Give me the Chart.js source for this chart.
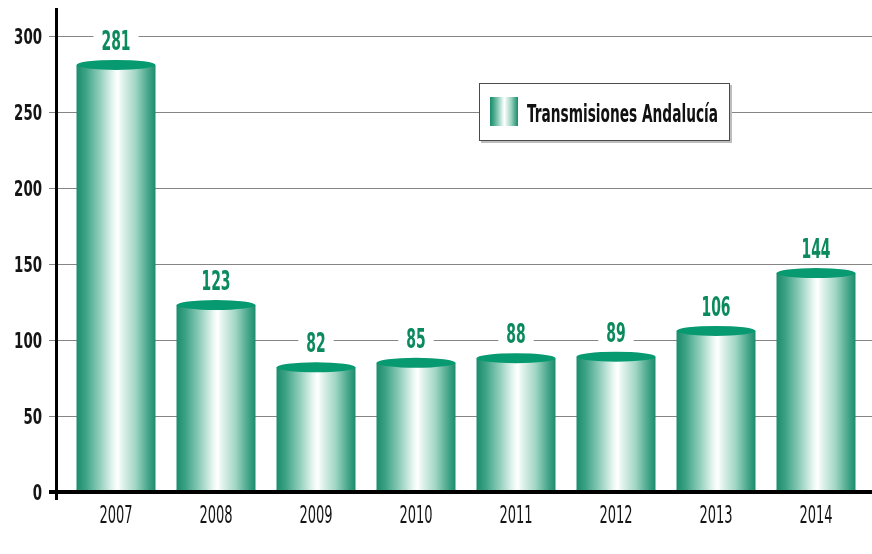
<!DOCTYPE html>
<html><head><meta charset="utf-8">
<script src="https://cdn.jsdelivr.net/npm/chart.js@4.4.1/dist/chart.umd.min.js"></script>
<style>html,body{margin:0;padding:0;background:#fff}#wrap{width:872px;height:554px}</style>
</head><body><div id="wrap"><canvas id="c" width="872" height="554"></canvas></div>
<script>
const categories = ['2007','2008','2009','2010','2011','2012','2013','2014'];
const values = [281,123,82,85,88,89,106,144];
const yTicks = [0,50,100,150,200,250,300];
const seriesName = 'Transmisiones Andalucía';

const FONT = '"Liberation Sans Narrow", "Arial Narrow", "DejaVu Sans Condensed", sans-serif';
const GREEN_TEXT = '#0b8a5e';
const CAP = '#079a70';

function cylGrad(ctx, x0, x1) {
  const g = ctx.createLinearGradient(x0, 0, x1, 0);
  g.addColorStop(0, '#1b8d6c');
  g.addColorStop(0.12, '#3fa386');
  g.addColorStop(0.3, '#93cfbd');
  g.addColorStop(0.46, '#e6f5f0');
  g.addColorStop(0.52, '#ffffff');
  g.addColorStop(0.58, '#e2f3ed');
  g.addColorStop(0.75, '#9fd5c3');
  g.addColorStop(0.9, '#4aa88c');
  g.addColorStop(1, '#1b8d6c');
  return g;
}

function drawScaled(ctx, text, x, y, font, color, align, digitW, targetW) {
  ctx.save();
  ctx.font = font;
  let sx = 1;
  if (targetW) sx = targetW / ctx.measureText(text).width;
  else if (digitW) sx = digitW / ctx.measureText('0').width;
  const w = ctx.measureText(text).width * sx;
  ctx.translate(x, y);
  ctx.scale(sx, 1);
  ctx.textAlign = align;
  ctx.textBaseline = 'alphabetic';
  ctx.fillStyle = color;
  ctx.fillText(text, 0, 0);
  ctx.restore();
  return w;
}

const cylPlugin = {
  id: 'cyl',
  beforeDatasetsDraw(chart) {
    const ctx = chart.ctx, ys = chart.scales.y;
    ctx.save();
    ctx.strokeStyle = '#858585';
    ctx.lineWidth = 1.2;
    yTicks.forEach(v => {
      if (v === 0) return;
      const y = Math.round(ys.getPixelForValue(v)) + 0.5;
      ctx.beginPath(); ctx.moveTo(49, y); ctx.lineTo(872, y); ctx.stroke();
    });
    ctx.restore();
  },
  afterDatasetsDraw(chart) {
    const ctx = chart.ctx, ys = chart.scales.y, xs = chart.scales.x;
    const meta = chart.getDatasetMeta(0);
    const area = chart.chartArea;
    // caps
    meta.data.forEach((el) => {
      ctx.save();
      ctx.fillStyle = CAP;
      ctx.beginPath();
      ctx.ellipse(el.x, el.y, el.width / 2, 5, 0, 0, Math.PI * 2);
      ctx.fill();
      ctx.restore();
    });
    // axes
    ctx.save();
    ctx.fillStyle = '#000';
    const y0 = ys.getPixelForValue(0);
    ctx.fillRect(49, y0 - 2, 823, 4);
    ctx.fillRect(55, 8, 3, y0 + 8 - 8);
    ctx.restore();
    // value labels
    meta.data.forEach((el, i) => {
      const txt = String(values[i]);
      const base = el.y - 15;
      ctx.save();
      ctx.font = 'bold 26px ' + FONT;
      const sx = 9.7 / ctx.measureText('0').width;
      const tw = ctx.measureText(txt).width * sx;
      ctx.fillStyle = '#fff';
      ctx.fillRect(el.x - tw / 2 - 8, base - 22, tw + 16, 26);
      ctx.restore();
      drawScaled(ctx, txt, el.x, base, 'bold 26px ' + FONT, GREEN_TEXT, 'center', 9.7);
    });
    // y tick labels
    yTicks.forEach(v => {
      const y = ys.getPixelForValue(v);
      drawScaled(ctx, String(v), 42, y + 8, 'bold 22px ' + FONT, '#151515', 'right', 9.3);
    });
    // x tick labels
    categories.forEach((c, i) => {
      const x = xs.getPixelForValue(i);
      drawScaled(ctx, c, x, y0 + 31, '25px ' + FONT, '#151515', 'center', 8.3);
    });
    // legend
    const lx = area.left + 413, ly = area.top + 47, lw = 251, lh = 58;
    ctx.save();
    ctx.fillStyle = '#bdbdbd';
    ctx.fillRect(lx + 2, ly + 2, lw, lh);
    ctx.fillStyle = '#fff';
    ctx.fillRect(lx, ly, lw, lh);
    ctx.strokeStyle = '#4a4a4a';
    ctx.lineWidth = 1;
    ctx.strokeRect(lx + 0.5, ly + 0.5, lw - 1, lh - 1);
    ctx.fillStyle = cylGrad(ctx, lx + 11, lx + 39);
    ctx.fillRect(lx + 11, ly + 14, 28, 29);
    ctx.restore();
    drawScaled(ctx, seriesName, lx + 48, ly + 39, 'bold 25px ' + FONT, '#111', 'left', null, 191);
  }
};

new Chart(document.getElementById('c'), {
  type: 'bar',
  data: {
    labels: categories,
    datasets: [{
      label: seriesName,
      data: values,
      borderWidth: 0,
      barPercentage: 0.79,
      categoryPercentage: 1,
      backgroundColor: (c) => {
        const ch = c.chart, xs = ch.scales.x;
        if (!xs || !ch.chartArea || c.dataIndex === undefined) return '#3fa386';
        const cx = xs.getPixelForValue(c.dataIndex);
        const w = (xs.width / categories.length) * 0.79;
        return cylGrad(ch.ctx, cx - w / 2, cx + w / 2);
      }
    }]
  },
  options: {
    responsive: false,
    animation: false,
    events: [],
    layout: { padding: { top: 36, right: 6, left: 0, bottom: 0 } },
    plugins: { legend: { display: false }, tooltip: { enabled: false } },
    scales: {
      x: {
        grid: { display: false }, border: { display: false },
        ticks: { display: false },
        afterFit: (s) => { s.height = 62; }
      },
      y: {
        min: 0, max: 300,
        grid: { display: false }, border: { display: false },
        ticks: { display: false, stepSize: 50 },
        afterFit: (s) => { s.width = 66; }
      }
    }
  },
  plugins: [cylPlugin]
});
</script>
</body></html>
